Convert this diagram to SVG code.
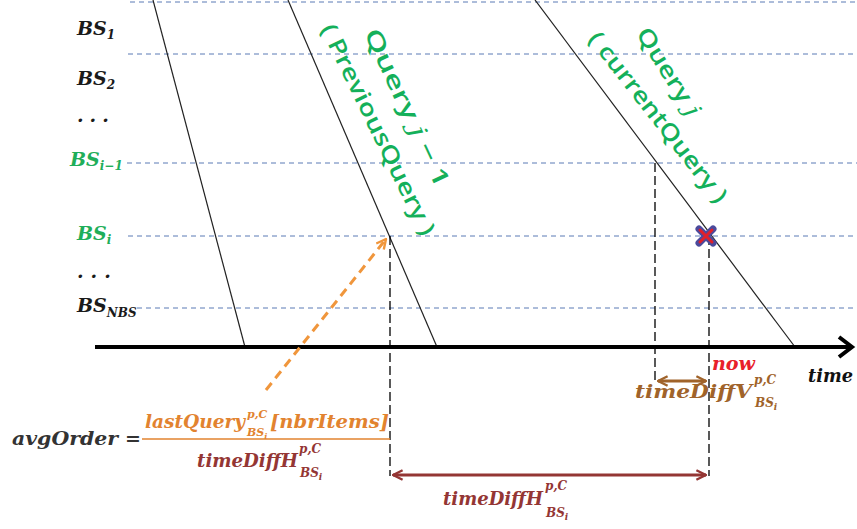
<svg xmlns="http://www.w3.org/2000/svg" width="857" height="529" viewBox="0 0 857 529">
<style>
.m{font-family:"DejaVu Serif","Liberation Serif",serif;font-weight:bold;font-style:italic}
.lab{font-size:19px;fill:#1a1a1a}
.g{fill:#1fae5a}
.sub{font-size:12px}
.hl{stroke:#5a7bb5;stroke-width:1;stroke-dasharray:5 4;fill:none}
.vl{stroke:#000;stroke-width:1.3;stroke-dasharray:9 4;fill:none}
.q{stroke:#222;stroke-width:1.2;fill:none}
.qt{font-family:"Open Sans","Noto Sans",sans-serif;font-size:23px;fill:#14b05a;font-weight:600}
.or{fill:#e2832f}
.dr{fill:#943634}
.br{fill:#a0632a}
</style>
<defs>
<marker id="ahBr" viewBox="0 0 10 10" refX="9" refY="5" markerWidth="4" markerHeight="4" orient="auto-start-reverse"><path d="M1,1 L9,5 L1,9" fill="none" stroke="#a0632a" stroke-width="2"/></marker>
<marker id="ahDr" viewBox="0 0 10 10" refX="9" refY="5" markerWidth="4" markerHeight="4" orient="auto-start-reverse"><path d="M1,1 L9,5 L1,9" fill="none" stroke="#943634" stroke-width="2"/></marker>
<marker id="ahOr" viewBox="0 0 10 10" refX="9" refY="5" markerWidth="4" markerHeight="4" orient="auto"><path d="M1,1 L9,5 L1,9" fill="none" stroke="#f0963c" stroke-width="2"/></marker>
</defs>
<rect width="857" height="529" fill="#ffffff"/>

<g id="grid">
<line class="hl" x1="130" y1="2" x2="857" y2="2"/>
<line class="hl" x1="128" y1="54" x2="857" y2="54"/>
<line class="hl" x1="127" y1="163" x2="857" y2="163"/>
<line class="hl" x1="128" y1="236" x2="857" y2="236"/>
<line class="hl" x1="137" y1="308" x2="857" y2="308"/>
</g>

<g id="bs-labels" class="m">
<text class="lab" x="77" y="35">BS<tspan class="sub" font-size="12" dy="4">1</tspan></text>
<text class="lab" x="77" y="85">BS<tspan class="sub" font-size="12" dy="4">2</tspan></text>
<text class="lab" x="77" y="122" letter-spacing="6">...</text>
<text class="lab g" x="70" y="166">BS<tspan class="sub" font-size="12" dy="4">i−1</tspan></text>
<text class="lab g" x="77" y="240">BS<tspan class="sub" font-size="12" dy="4">i</tspan></text>
<text class="lab" x="77" y="278" letter-spacing="7">...</text>
<text class="lab" x="77" y="312">BS<tspan class="sub" font-size="12" dy="5">NBS</tspan></text>
</g>

<g id="query-lines">
<line class="q" x1="153" y1="0" x2="245" y2="347"/>
<line class="q" x1="288" y1="0" x2="437" y2="347"/>
<line class="q" x1="535" y1="0" x2="795" y2="347"/>
</g>

<g id="query-prev">
<text class="qt" text-anchor="middle" transform="translate(400,111) rotate(65)" textLength="172" lengthAdjust="spacingAndGlyphs">Query <tspan font-family="DejaVu Serif" font-style="italic" font-weight="normal">j</tspan> − 1</text>
<text class="qt" text-anchor="middle" transform="translate(371,133) rotate(64)" textLength="232" lengthAdjust="spacingAndGlyphs">( PreviousQuery )</text>
</g>

<g id="query-current">
<text class="qt" text-anchor="middle" transform="translate(662,76) rotate(58)" textLength="100" lengthAdjust="spacingAndGlyphs">Query <tspan font-family="DejaVu Serif" font-style="italic" font-weight="normal">j</tspan></text>
<text class="qt" text-anchor="middle" transform="translate(652,122) rotate(52)" textLength="210" lengthAdjust="spacingAndGlyphs">( currentQuery )</text>
</g>

<g id="axis">
<line x1="95" y1="347" x2="850" y2="347" stroke="#000" stroke-width="4"/>
<path d="M839,337 L852,347 L839,357" fill="none" stroke="#000" stroke-width="4" stroke-linejoin="miter"/>
<text class="m" x="808" y="382" font-size="18" fill="#111" textLength="45" lengthAdjust="spacingAndGlyphs">time</text>
<text class="m" x="712" y="370" font-size="18" fill="#e8202a" textLength="43" lengthAdjust="spacingAndGlyphs">now</text>
</g>

<g id="connectors">
<line class="vl" x1="655" y1="163" x2="655" y2="383"/>
<line class="vl" x1="709" y1="236" x2="709" y2="476"/>
<line class="vl" x1="390" y1="236" x2="390" y2="476"/>
<line x1="658" y1="381" x2="706" y2="381" stroke="#a0632a" stroke-width="3" marker-start="url(#ahBr)" marker-end="url(#ahBr)"/>
<line x1="393" y1="475" x2="706" y2="475" stroke="#943634" stroke-width="3" marker-start="url(#ahDr)" marker-end="url(#ahDr)"/>
<line x1="266" y1="390" x2="386" y2="239" stroke="#f0963c" stroke-width="3" stroke-dasharray="9 6" marker-end="url(#ahOr)"/>
</g>

<g id="marker-x">
<path d="M699,229 L713,243 M713,229 L699,243" stroke="#4b4a9c" stroke-width="7" stroke-linecap="round"/>
<path d="M700,230 L712,242 M712,230 L700,242" stroke="#e0202a" stroke-width="3" stroke-linecap="round"/>
</g>

<g id="timeDiffV" class="m br">
<text x="635" y="398" font-size="19" textLength="117" lengthAdjust="spacingAndGlyphs">timeDiffV</text>
<text x="754" y="384" font-size="12">p,C</text>
<text x="755" y="407" font-size="12">BS<tspan font-size="9" dy="3">i</tspan></text>
</g>

<g id="timeDiffH" class="m dr">
<text x="443" y="505" font-size="19" textLength="100" lengthAdjust="spacingAndGlyphs">timeDiffH</text>
<text x="545" y="490" font-size="12">p,C</text>
<text x="546" y="517" font-size="12">BS<tspan font-size="9" dy="3">i</tspan></text>
</g>

<g id="formula" class="m">
<text x="12" y="445" font-size="19" fill="#333" textLength="106" lengthAdjust="spacingAndGlyphs">avgOrder</text>
<text x="125" y="445" font-size="19" fill="#333" font-style="normal">=</text>
<line x1="142" y1="439" x2="390" y2="439" stroke="#e2832f" stroke-width="1.5"/>
<text class="or" x="145" y="428" font-size="19" textLength="100" lengthAdjust="spacingAndGlyphs">lastQuery</text>
<text class="or" x="247" y="418" font-size="11">p,C</text>
<text class="or" x="247" y="436" font-size="11">BS<tspan font-size="8" dy="3">i</tspan></text>
<text class="or" x="270" y="428" font-size="19" textLength="119" lengthAdjust="spacingAndGlyphs">[nbrItems]</text>
<text class="dr" x="197" y="467" font-size="19" textLength="101" lengthAdjust="spacingAndGlyphs">timeDiffH</text>
<text class="dr" x="299" y="453" font-size="12">p,C</text>
<text class="dr" x="300" y="477" font-size="12">BS<tspan font-size="9" dy="3">i</tspan></text>
</g>
</svg>
